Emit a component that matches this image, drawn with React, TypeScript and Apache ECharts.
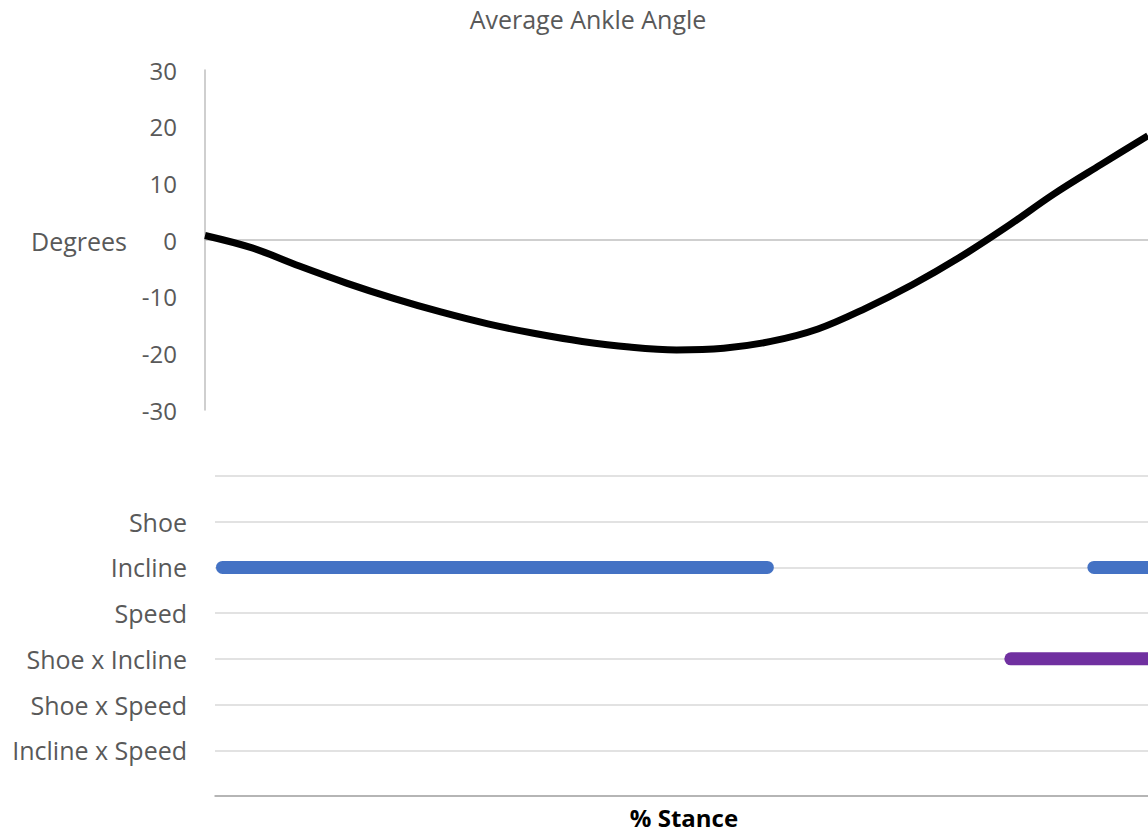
import React, { useEffect, useRef } from "react";
import * as echarts from "echarts";

// Average ankle angle over stance (% stance -> degrees)
const stancePct = [0, 5, 10, 15, 20, 25, 30, 35, 40, 45, 50, 55, 60, 65, 70, 75, 80, 85, 90, 95, 100];
const ankleDeg = [0.8, -1.4, -4.6, -7.6, -10.3, -12.7, -14.8, -16.5, -17.9, -18.9, -19.4, -19.1, -17.9, -15.7, -12.1, -7.9, -3.1, 2.3, 8.1, 13.3, 18.4];

const degreeTicks = [-30, -20, -10, 0, 10, 20, 30];

// Effect rows and the stance windows where each effect is significant
const effects = ["Shoe", "Incline", "Speed", "Shoe x Incline", "Shoe x Speed", "Incline x Speed"];
const significantSpans: { effect: string; from: number; to: number; color: string }[] = [
  { effect: "Incline", from: 0.8, to: 59.2, color: "#4472C4" },
  { effect: "Incline", from: 94.2, to: 100, color: "#4472C4" },
  { effect: "Shoe x Incline", from: 85.3, to: 100, color: "#7030A0" },
];

const FONT = "'Open Sans', sans-serif";
const TEXT = "#595959";

export default function App() {
  const ref = useRef<HTMLDivElement>(null);

  useEffect(() => {
    if (!ref.current) return;
    const chart = echarts.init(ref.current, undefined, { renderer: "svg" });

    const spanSeries = significantSpans.map((s) => {
      const row = effects.indexOf(s.effect) + 1;
      return {
        type: "line",
        xAxisIndex: 1,
        yAxisIndex: 1,
        symbol: "none",
        silent: true,
        clip: false,
        lineStyle: { color: s.color, width: 13, cap: "round" },
        data: [
          [s.from, row],
          [s.to, row],
        ],
      };
    });

    chart.setOption({
      animation: false,
      textStyle: { fontFamily: FONT },
      grid: [
        { left: 205, right: 0, top: 70, bottom: 422 },
        { left: 215, right: 0, top: 476, bottom: 36 },
      ],
      xAxis: [
        {
          gridIndex: 0,
          type: "value",
          min: 0,
          max: 100,
          axisLine: { onZero: true, lineStyle: { color: "#BFBFBF", width: 1.5 } },
          axisTick: { show: false },
          axisLabel: { show: false },
          splitLine: { show: false },
        },
        {
          gridIndex: 1,
          type: "value",
          min: 0,
          max: 100,
          position: "bottom",
          axisLine: { onZero: false, lineStyle: { color: "#A6A6A6", width: 1.5 } },
          axisTick: { show: false },
          axisLabel: { show: false },
          splitLine: { show: false },
        },
      ],
      yAxis: [
        {
          gridIndex: 0,
          type: "value",
          min: degreeTicks[0],
          max: degreeTicks[degreeTicks.length - 1],
          interval: 10,
          axisLine: { show: true, lineStyle: { color: "#BFBFBF", width: 1.5 } },
          axisTick: { show: false },
          splitLine: { show: false },
          axisLabel: { color: TEXT, fontSize: 24, fontFamily: FONT, margin: 28 },
        },
        {
          gridIndex: 1,
          type: "value",
          min: 0,
          max: effects.length + 1,
          interval: 1,
          inverse: true,
          axisLine: { show: false },
          axisTick: { show: false },
          splitLine: { show: true, lineStyle: { color: "#D9D9D9", width: 1.5 } },
          axisLabel: {
            color: TEXT,
            fontSize: 25,
            fontFamily: FONT,
            margin: 28,
            formatter: (v: number) => effects[v - 1] ?? "",
          },
        },
      ],
      graphic: [
        {
          type: "text",
          x: 588,
          y: 19,
          style: {
            text: "Average Ankle Angle",
            fill: TEXT,
            font: `25px ${FONT}`,
            textAlign: "center",
            textVerticalAlign: "middle",
          },
        },
        {
          type: "text",
          x: 127,
          y: 241,
          style: {
            text: "Degrees",
            fill: TEXT,
            font: `25px ${FONT}`,
            textAlign: "right",
            textVerticalAlign: "middle",
          },
        },
        {
          type: "text",
          x: 684,
          y: 817,
          style: {
            text: "% Stance",
            fill: "#000000",
            font: `bold 24px ${FONT}`,
            textAlign: "center",
            textVerticalAlign: "middle",
          },
        },
      ],
      series: [
        {
          type: "line",
          xAxisIndex: 0,
          yAxisIndex: 0,
          smooth: 0.35,
          symbol: "none",
          lineStyle: { color: "#000000", width: 7 },
          data: stancePct.map((p, i) => [p, ankleDeg[i]]),
        },
        ...spanSeries,
      ],
    });

    return () => chart.dispose();
  }, []);

  return (
    <div
      ref={ref}
      style={{ position: "fixed", left: 0, top: 0, width: 1148, height: 832, background: "#fff" }}
    />
  );
}
